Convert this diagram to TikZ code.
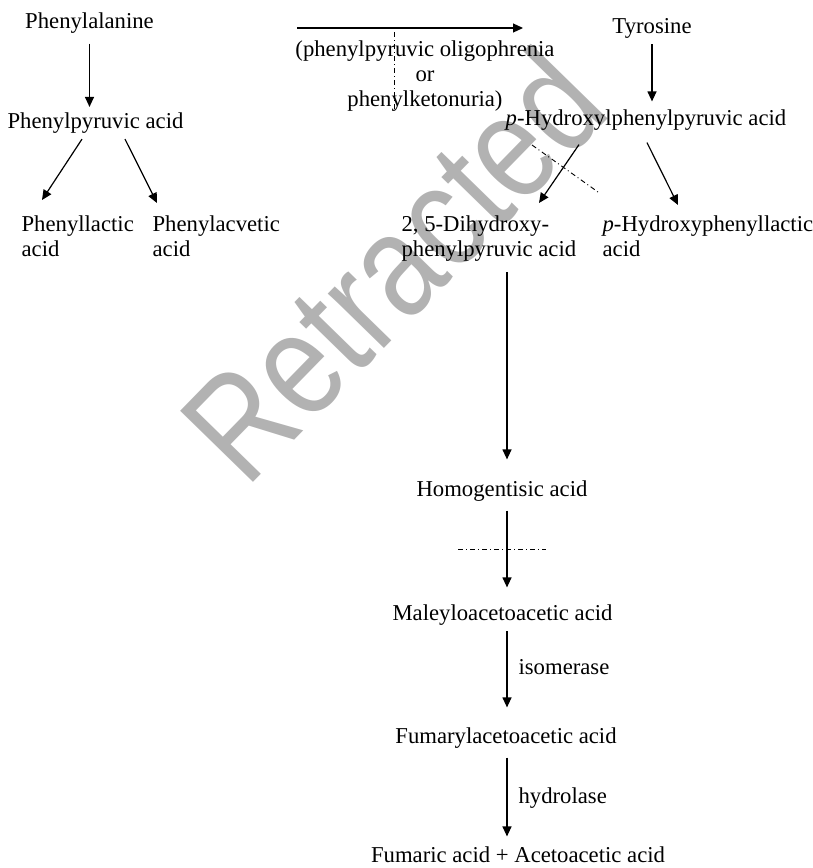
\documentclass[tikz,border=0pt]{standalone}
\usepackage{fontspec}
\setmainfont{Liberation Serif}
\newfontfamily\wmfont{Liberation Sans}
\usepackage{tikz}
\usetikzlibrary{arrows.meta}

\newcommand{\cmpdfont}{\fontsize{11.35pt}{12.5pt}\selectfont}

\begin{document}
\begin{tikzpicture}[x=0.5pt,y=-0.5pt,line width=0.6pt,
    >={Triangle[length=5pt,width=4.5pt]},
    cmpd/.style={font=\cmpdfont,inner xsep=0pt,inner ysep=2.5pt,text height=8pt,text depth=2.5pt},
    cmpd2/.style={font=\cmpdfont,inner xsep=0pt,inner ysep=2.5pt,align=left,anchor=north west},
    enz/.style={cmpd,right=5.5pt},
    block/.style={line width=0.45pt,dash pattern=on 2.5pt off 1.5pt on 0.5pt off 1.5pt},
    wm/.style={font=\wmfont\fontsize{74pt}{74pt}\selectfont,text=black!30,rotate=45.7,anchor=base west,inner sep=0pt}]
    \useasboundingbox (0,0) rectangle (813,868);
    \node[wm] (wm) at (246,490) {\scalebox{0.82}[1]{Retracted}};

    \node[cmpd] (phe) at (89.5,23) {Phenylalanine};
    \node[cmpd] (ppa) at (95.5,123) {Phenylpyruvic acid};
    \node[cmpd2] (pla) at (21,210) {Phenyllactic\\acid};
    \node[cmpd2] (pav) at (152,210) {Phenylacvetic\\acid};
    \node[cmpd2,anchor=north,align=center] (pku) at (425,35) {(phenylpyruvic oligophrenia\\or\\phenylketonuria)};
    \node[cmpd] (tyr) at (652,28) {Tyrosine};
    \node[cmpd] (hpp) at (646,120) {\textit{p}-Hydroxylphenylpyruvic acid};
    \node[cmpd2] (dhp) at (401,210) {2, 5-Dihydroxy-\\phenylpyruvic acid};
    \node[cmpd2] (hpl) at (602,210) {\textit{p}-Hydroxyphenyllactic\\acid};
    \node[cmpd] (hga) at (502,491) {Homogentisic acid};
    \node[cmpd] (maa) at (502.5,615) {Maleyloacetoacetic acid};
    \node[cmpd] (faa) at (506,738) {Fumarylacetoacetic acid};
    \node[cmpd] (fum) at (518,857) {Fumaric acid + Acetoacetic acid};

    \coordinate (pahL) at (297,28);
    \coordinate (pahR) at (523,28);
    \coordinate (trunk) at (507,0);

    \begin{scope}[->]
      \draw (pahL) -- (pahR);
      \draw[shorten <=2.25pt] (phe.south) -- (phe.south |- ppa.north);
      \draw ([xshift=-6.75pt]ppa.south) -- ([xshift=10.5pt,yshift=5pt]pla.north west);
      \draw ([xshift=14.75pt]ppa.south) -- ([xshift=2.5pt,yshift=3.5pt]pav.north west);
      \draw[shorten >=1.25pt] (tyr.south) -- (tyr.south |- hpp.north);
      \draw ([xshift=-33.5pt,yshift=-4.25pt]hpp.south) -- ([xshift=69pt,yshift=3.5pt]dhp.north west);
      \draw ([xshift=0.5pt,yshift=-3.25pt]hpp.south) -- ([xshift=38pt,yshift=2.5pt]hpl.north west);
      \draw[shorten <=2.7pt,shorten >=7.75pt] (dhp.south -| trunk) -- (hga.north -| trunk);
      \draw[shorten <=1.75pt,shorten >=5.75pt] (hga.south -| trunk) -- (maa.north -| trunk);
      \draw[shorten >=7.25pt] (maa.south -| trunk) -- (faa.north -| trunk) node[enz,pos=0.42] {isomerase};
      \draw[shorten <=1.75pt,shorten >=2.25pt] (faa.south -| trunk) -- (fum.north -| trunk) node[enz,midway] {hydrolase};
    \end{scope}

    % blocked steps
    \draw[block] (394,32) -- (394,112);
    \draw[block] (532,145) -- (598,192);
    \draw[block] (458,549) -- (546,549);
\end{tikzpicture}
\end{document}
